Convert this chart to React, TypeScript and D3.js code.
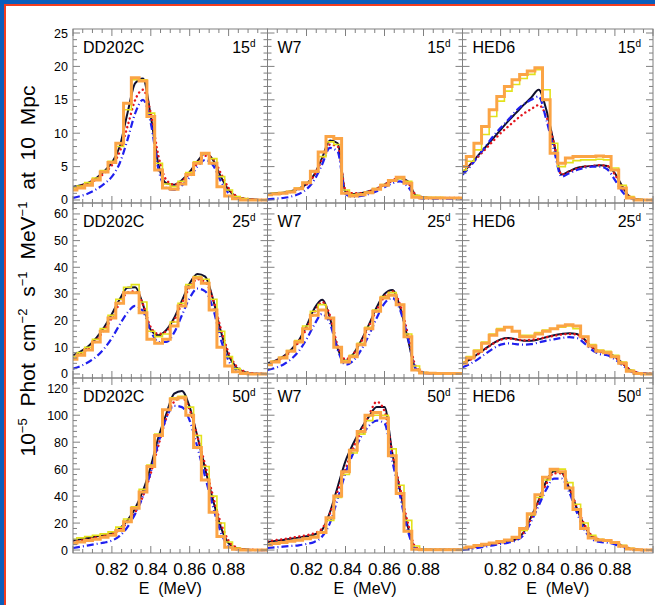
import React, { useRef, useEffect } from 'react';
import * as d3 from 'd3';

// energy grid (MeV)
const energies = [0.800, 0.804, 0.808, 0.812, 0.816, 0.820, 0.824, 0.828, 0.832, 0.836, 0.840, 0.844, 0.848,
  0.852, 0.856, 0.860, 0.864, 0.868, 0.872, 0.876, 0.880, 0.884, 0.888, 0.892, 0.896, 0.900];

const models = ['DD202C', 'W7', 'HED6'];
const epochs = ['15', '25', '50'];
const xTickLabels = [0.82, 0.84, 0.86, 0.88];
const yTicksByRow = [[0, 5, 10, 15, 20, 25], [0, 10, 20, 30, 40, 50, 60], [0, 20, 40, 60, 80, 100, 120]];
const yMinorStep = [1, 2, 4];

// 15 days
const dd15Black = [2.0, 2.2, 2.6, 3.3, 4.3, 5.6, 8.0, 13.0, 17.5, 18.2, 12.5, 5.2, 2.5, 2.3, 3.0, 4.2, 5.8, 7.0, 6.0, 3.5, 1.5, 0.5, 0.2, 0.1, 0, 0];
const dd15Red = [1.8, 2.1, 2.5, 3.1, 4.0, 5.2, 7.2, 11.0, 15.0, 16.5, 13.0, 6.5, 3.0, 2.3, 2.8, 4.0, 5.5, 6.6, 6.2, 4.0, 1.8, 0.6, 0.2, 0.1, 0, 0];
const dd15Blue = [0.3, 0.6, 1.0, 1.6, 2.4, 3.5, 5.5, 9.0, 13.0, 15.0, 11.5, 4.5, 1.8, 1.5, 2.2, 3.4, 5.0, 6.0, 5.2, 2.8, 1.0, 0.3, 0.1, 0, 0, 0];
const dd15Yellow = [1.8, 2.1, 2.6, 3.3, 4.4, 5.8, 8.0, 13.5, 18.0, 18.0, 13.0, 5.5, 2.4, 2.0, 2.8, 4.1, 5.7, 6.9, 6.2, 3.5, 1.5, 0.5, 0.2, 0, 0, 0];
const dd15Orange = [1.5, 1.8, 2.2, 3.0, 4.2, 5.6, 8.5, 14.5, 18.3, 17.8, 12.5, 4.5, 1.8, 1.6, 2.4, 3.8, 5.5, 7.0, 5.5, 2.0, 0.6, 0.2, 0, 0, 0, 0];

const w715Black = [0.9, 1.0, 1.1, 1.3, 1.7, 2.4, 3.8, 6.3, 8.9, 8.5, 1.2, 0.9, 1.0, 1.3, 1.7, 2.3, 2.9, 3.3, 2.8, 0.7, 0.4, 0.3, 0.3, 0.3, 0.3, 0.3];
const w715Red = [0.8, 0.9, 1.0, 1.2, 1.6, 2.3, 3.7, 6.0, 8.3, 8.0, 1.5, 1.0, 1.0, 1.3, 1.7, 2.3, 2.9, 3.4, 2.6, 0.8, 0.4, 0.3, 0.3, 0.3, 0.3, 0.3];
const w715Blue = [0.1, 0.2, 0.3, 0.5, 0.9, 1.6, 3.0, 5.3, 7.8, 7.2, 0.9, 0.5, 0.6, 0.9, 1.3, 1.9, 2.5, 2.8, 2.0, 0.5, 0.2, 0.2, 0.2, 0.2, 0.2, 0.2];
const w715Yellow = [0.9, 1.0, 1.1, 1.3, 1.8, 2.6, 4.2, 6.5, 8.7, 8.3, 1.5, 0.8, 0.9, 1.2, 1.7, 2.3, 2.9, 3.2, 2.8, 0.7, 0.4, 0.4, 0.4, 0.3, 0.3, 0.3];
const w715Orange = [0.8, 0.9, 1.0, 1.2, 1.7, 2.6, 4.3, 7.2, 9.5, 9.2, 1.0, 0.6, 0.8, 1.1, 1.6, 2.2, 2.9, 3.4, 2.5, 0.4, 0.3, 0.3, 0.3, 0.3, 0.3, 0.3];

const hed15Black = [4.0, 5.3, 6.6, 7.9, 9.2, 10.5, 11.8, 13.0, 14.2, 15.3, 16.5, 13.5, 8.5, 3.8, 4.3, 4.8, 5.0, 5.1, 5.2, 5.1, 4.0, 2.0, 0.4, 0.1, 0, 0];
const hed15Red = [4.0, 5.2, 6.4, 7.6, 8.8, 10.0, 11.0, 12.0, 12.9, 13.6, 14.2, 12.5, 8.5, 3.8, 4.2, 4.7, 5.0, 5.1, 5.2, 5.1, 3.8, 1.8, 0.5, 0.1, 0, 0];
const hed15Blue = [3.8, 5.0, 6.5, 8.0, 9.5, 10.8, 12.0, 13.3, 14.3, 15.0, 15.5, 12.0, 7.5, 3.5, 4.0, 4.5, 4.8, 5.0, 5.0, 4.6, 3.0, 1.2, 0.3, 0.1, 0, 0];
const hed15Yellow = [4.5, 5.8, 7.5, 9.8, 12.5, 14.8, 16.3, 17.3, 18.2, 18.8, 19.5, 16.5, 8.5, 5.0, 5.6, 5.9, 6.0, 6.0, 6.1, 6.0, 4.8, 2.2, 0.5, 0.1, 0, 0];
const hed15Orange = [5.0, 6.5, 8.5, 11.0, 13.5, 15.5, 17.0, 18.0, 18.8, 19.3, 19.8, 15.0, 7.0, 5.5, 6.3, 6.5, 6.5, 6.5, 6.6, 6.5, 4.5, 1.8, 0.3, 0, 0, 0];

// 25 days
const dd25Black = [7, 8.5, 10.5, 13.5, 17.5, 22.5, 28, 32.3, 32.5, 26, 16.5, 14.5, 16.5, 21, 27.5, 34, 37.5, 36.5, 28, 16, 7, 2.5, 0.8, 0.2, 0.1, 0];
const dd25Red = [6, 7.5, 9.5, 12.5, 16.5, 21, 26.5, 30.5, 31, 26, 17.5, 15, 16, 20, 26.5, 32.5, 35.5, 34.5, 28, 17, 8, 3, 1, 0.3, 0.1, 0];
const dd25Blue = [2, 3, 4.5, 6.5, 9.5, 13.5, 18.5, 23, 25.5, 23.5, 16, 12, 12, 15.5, 22, 28.5, 32, 31, 24.5, 13, 5, 1.5, 0.4, 0.1, 0, 0];
const dd25Yellow = [6.5, 8, 10, 13, 17, 22, 28, 32.5, 33.5, 27, 16, 14, 15, 19.5, 26.5, 33.5, 36.5, 35.5, 28, 16, 6.5, 2, 0.5, 0.1, 0, 0];
const dd25Orange = [5.5, 7, 9, 12, 16, 21, 26.5, 30.5, 30.5, 23, 13, 11.5, 13, 18, 25.5, 32.5, 36, 34, 24, 10, 3, 0.8, 0.2, 0, 0, 0];

const w725Black = [4, 5, 6.5, 9, 12.5, 18, 24.5, 27.8, 21, 9.5, 5, 7.5, 12.5, 18.5, 25, 30, 31.5, 25, 13, 2, 0.5, 0.3, 0.2, 0.2, 0.2, 0.2];
const w725Red = [3.8, 4.8, 6.2, 8.5, 12, 17, 23, 27, 22, 10.5, 5.5, 7.5, 12, 18, 24, 29, 31, 26, 15, 3, 0.6, 0.3, 0.2, 0.2, 0.2, 0.2];
const w725Blue = [1.5, 2.3, 3.5, 5.5, 8.5, 13, 18.5, 22.5, 19, 9, 3.5, 5, 9, 14.5, 21, 26.5, 28.5, 24, 13.5, 2, 0.3, 0.1, 0.1, 0.1, 0.1, 0.1];
const w725Yellow = [3.8, 4.8, 6.3, 8.8, 12.5, 18, 23.5, 26, 21, 10, 5, 7, 11.5, 17.5, 24, 29, 30.5, 26, 15, 3, 0.5, 0.3, 0.2, 0.2, 0.2, 0.2];
const w725Orange = [3.5, 4.5, 6, 8.5, 12, 17, 22, 24, 21, 10, 4.5, 6.5, 11, 17, 23.5, 28.5, 29.5, 26, 14, 1.5, 0.4, 0.3, 0.2, 0.2, 0.2, 0.2];

const hed25Black = [4, 5.5, 7.5, 9.5, 11.5, 13, 13.5, 13, 12.5, 12.5, 13, 13.8, 14.5, 15, 15.3, 15, 13, 10, 8.5, 8, 6.5, 4, 1.5, 0.5, 0.2, 0.1];
const hed25Red = [4, 5.3, 7.3, 9.3, 11.3, 12.8, 13.3, 13, 12.6, 12.8, 13.2, 13.8, 14.3, 14.8, 15, 14.8, 12.8, 10, 8.5, 7.8, 6.3, 4, 1.6, 0.5, 0.2, 0.1];
const hed25Blue = [2.5, 3.8, 5.5, 7.5, 9.5, 11, 11.5, 11.2, 11, 11.2, 11.8, 12.5, 13, 13.5, 13.8, 13.5, 11.5, 9, 7.5, 7, 5.5, 3.2, 1, 0.3, 0.1, 0];
const hed25Yellow = [4.5, 6.5, 9, 12, 15, 17, 17.5, 16, 14.5, 14.5, 15.5, 16.5, 17, 17.5, 18, 17, 14, 11, 9, 8.5, 7, 4.5, 1.5, 0.4, 0.1, 0];
const hed25Orange = [4, 6, 8.5, 11.5, 14.5, 16.5, 17.5, 16, 14, 14, 15, 16, 17, 18, 18.5, 18, 14, 10.5, 8.5, 8, 6.5, 4, 1, 0.2, 0, 0];

// 50 days
const dd50Black = [7, 8, 9, 10, 11, 12.5, 16, 22, 31, 44, 62, 84, 101, 116, 118, 106, 84, 60, 37, 17, 5, 1.5, 0.5, 0, 0, 0];
const dd50Red = [6, 7, 8, 9.5, 10.5, 12, 15, 20.5, 28, 40, 57, 78, 98, 110, 113, 104, 84, 63, 40, 20, 7, 2, 0.6, 0.2, 0, 0];
const dd50Blue = [1.5, 2.5, 3.5, 4.5, 5.5, 7, 10.5, 17, 27, 40, 58, 80, 98, 107, 106, 96, 76, 54, 32, 13, 3, 0.5, 0.1, 0, 0, 0];
const dd50Yellow = [8, 9, 10, 11, 12, 13.5, 17, 23, 32, 45, 63, 86, 104, 113, 114, 106, 85, 62, 40, 20, 6, 1.5, 0.4, 0, 0, 0];
const dd50Orange = [5, 6, 7, 8, 9.5, 11, 14.5, 21, 31, 43, 62, 85, 104, 112, 113, 100, 76, 52, 28, 10, 2, 0.5, 0, 0, 0, 0];

const w750Black = [6, 6.8, 7.5, 8.3, 9.2, 10.2, 11.5, 15, 28, 47, 66, 79, 90, 99, 106, 106, 72, 44, 17, 1, 0.3, 0.2, 0.2, 0.2, 0.2, 0.2];
const w750Red = [6.5, 7.3, 8, 9, 10, 11, 12.5, 16, 27, 44, 60, 76, 88, 100, 110, 103, 72, 46, 20, 2, 0.4, 0.3, 0.3, 0.3, 0.3, 0.3];
const w750Blue = [1.5, 2, 2.5, 3, 3.5, 4.5, 6, 10, 20, 38, 57, 72, 84, 92, 96, 94, 66, 40, 14, 1, 0.2, 0.1, 0.1, 0.1, 0.1, 0.1];
const w750Yellow = [4.5, 5, 5.8, 6.5, 7.5, 8.5, 10, 13, 22, 39, 56, 72, 86, 96, 100, 100, 75, 48, 22, 3, 0.5, 0.3, 0.3, 0.3, 0.3, 0.3];
const w750Orange = [4, 4.8, 5.5, 6.5, 7.3, 8.3, 9.5, 13, 24, 40, 58, 74, 88, 100, 102, 98, 70, 42, 14, 0.5, 0.3, 0.3, 0.3, 0.3, 0.3, 0.3];

const hed50Black = [1, 1.8, 2.7, 3.7, 4.7, 5.7, 6.6, 8, 13, 24.5, 37, 51, 58.5, 57.5, 46, 31, 18, 10, 7.5, 6.8, 5.5, 3, 1, 0.3, 0, 0];
const hed50Red = [1, 1.7, 2.6, 3.6, 4.6, 5.5, 6.4, 8, 12.5, 23, 36, 49, 57, 57, 47, 32, 19, 10.5, 7.8, 7, 5.7, 3.2, 1.2, 0.3, 0, 0];
const hed50Blue = [0, 0.8, 1.6, 2.5, 3.5, 4.5, 5.5, 7, 11, 21, 33, 45, 53, 53, 43, 28, 15, 8, 6, 5.5, 4.2, 2, 0.6, 0.1, 0, 0];
const hed50Yellow = [1.5, 2.3, 3.2, 4.2, 5.2, 6.2, 7.2, 9, 14.5, 26, 39, 52, 59, 60, 50, 34, 20, 11, 8, 7.2, 6, 3.5, 1.2, 0.3, 0, 0];
const hed50Orange = [1.5, 2.3, 3.3, 4.3, 5.3, 6.3, 7.5, 9.5, 16, 27, 41, 54, 60, 58, 46, 30, 16, 9, 7.5, 7, 5.5, 2.8, 0.8, 0.2, 0, 0];

// row-major: rows are epochs, columns are models
const panelSeries = [
  [dd15Black, dd15Red, dd15Blue, dd15Yellow, dd15Orange],
  [w715Black, w715Red, w715Blue, w715Yellow, w715Orange],
  [hed15Black, hed15Red, hed15Blue, hed15Yellow, hed15Orange],
  [dd25Black, dd25Red, dd25Blue, dd25Yellow, dd25Orange],
  [w725Black, w725Red, w725Blue, w725Yellow, w725Orange],
  [hed25Black, hed25Red, hed25Blue, hed25Yellow, hed25Orange],
  [dd50Black, dd50Red, dd50Blue, dd50Yellow, dd50Orange],
  [w750Black, w750Red, w750Blue, w750Yellow, w750Orange],
  [hed50Black, hed50Red, hed50Blue, hed50Yellow, hed50Orange],
];

const seriesStyle = [
  { color: '#10102e', width: 2, dash: null, cap: 'butt', step: false },
  { color: '#e3141c', width: 2.4, dash: '0.1,4.5', cap: 'round', step: false },
  { color: '#2020ee', width: 2.2, dash: '7,3,1,3', cap: 'butt', step: false },
  { color: '#e2e21c', width: 1.6, dash: null, cap: 'butt', step: true },
  { color: '#fba445', width: 3, dash: null, cap: 'butt', step: true },
];

const colEdges = [73, 267.5, 462.5, 653];
const rowEdges = [29, 203, 378, 553];
const yDomains = [[-0.45, 25.6], [-1.5, 64.1], [-2.2, 127.6]];
const font = '"Liberation Sans", Arial, Helvetica, sans-serif';

const App = () => {
  const svgRef = useRef<SVGSVGElement>(null);

  useEffect(() => {
    const svg = d3.select(svgRef.current);
    svg.selectAll('*').remove();

    // frame
    svg.append('rect').attr('width', 655).attr('height', 605).attr('fill', '#0b5ebb');
    svg.append('rect').attr('x', 4).attr('y', 4).attr('width', 651).attr('height', 601).attr('fill', '#f23d1f');
    svg.append('rect').attr('x', 6).attr('y', 6).attr('width', 649).attr('height', 599).attr('fill', '#fff');

    const defs = svg.append('defs');

    panelSeries.forEach((series, i) => {
      const col = i % 3;
      const row = Math.floor(i / 3);
      const x0 = colEdges[col], x1 = colEdges[col + 1];
      const y0 = rowEdges[row], y1 = rowEdges[row + 1];

      const x = d3.scaleLinear().domain([0.8, 0.9]).range([x0, x1]);
      const y = d3.scaleLinear().domain(yDomains[row]).range([y1, y0]);

      defs.append('clipPath').attr('id', `clip-${i}`)
        .append('rect').attr('x', x0).attr('y', y0).attr('width', x1 - x0).attr('height', y1 - y0);

      const g = svg.append('g').attr('clip-path', `url(#clip-${i})`);

      series.forEach((values, k) => {
        const s = seriesStyle[k];
        const line = d3.line<number>()
          .x((d, j) => x(energies[j]))
          .y(d => y(d))
          .curve(s.step ? d3.curveStep : d3.curveMonotoneX);
        const path = g.append('path')
          .attr('d', line(values))
          .attr('fill', 'none')
          .attr('stroke', s.color)
          .attr('stroke-width', s.width)
          .attr('stroke-linecap', s.cap);
        if (s.dash) path.attr('stroke-dasharray', s.dash);
      });

      // box + ticks on all sides, pointing inward
      const ax = svg.append('g').attr('stroke', '#808080').attr('stroke-width', 1).attr('fill', 'none');
      ax.append('rect').attr('x', x0).attr('y', y0).attr('width', x1 - x0).attr('height', y1 - y0);

      const xMinor = x.ticks(20);
      const xMajor = x.ticks(5);
      xMinor.forEach(v => {
        const len = xMajor.some(m => Math.abs(m - v) < 1e-6) ? 7 : 4;
        ax.append('line').attr('x1', x(v)).attr('x2', x(v)).attr('y1', y1).attr('y2', y1 - len);
        ax.append('line').attr('x1', x(v)).attr('x2', x(v)).attr('y1', y0).attr('y2', y0 + len);
      });

      const yMajor = yTicksByRow[row];
      const yMinor = d3.range(0, yDomains[row][1], yMinorStep[row]);
      yMinor.forEach(v => {
        const len = yMajor.includes(v) ? 7 : 4;
        ax.append('line').attr('x1', x0).attr('x2', x0 + len).attr('y1', y(v)).attr('y2', y(v));
        ax.append('line').attr('x1', x1).attr('x2', x1 - len).attr('y1', y(v)).attr('y2', y(v));
      });

      if (col === 0) {
        yMajor.forEach(v => {
          svg.append('text')
            .attr('x', 68).attr('y', y(v)).attr('dy', '0.36em')
            .attr('text-anchor', 'end')
            .attr('font-family', font).attr('font-size', 12.5)
            .text(v);
        });
      }

      if (row === 2) {
        xTickLabels.forEach(v => {
          svg.append('text')
            .attr('x', x(v)).attr('y', 575)
            .attr('text-anchor', 'middle')
            .attr('font-family', font).attr('font-size', 17)
            .text(v.toFixed(2));
        });
        svg.append('text')
          .attr('x', (x0 + x1) / 2).attr('y', 594)
          .attr('text-anchor', 'middle')
          .attr('font-family', font).attr('font-size', 16)
          .style('white-space', 'pre')
          .text('E  (MeV)');
      }

      // panel labels
      svg.append('text')
        .attr('x', x0 + 10).attr('y', y0 + 23.5)
        .attr('font-family', font).attr('font-size', 16)
        .text(models[col]);
      const ep = svg.append('text')
        .attr('x', x1 - 12).attr('y', y0 + 23.5)
        .attr('text-anchor', 'end')
        .attr('font-family', font).attr('font-size', 16);
      ep.append('tspan').text(epochs[row]);
      ep.append('tspan').attr('dy', -6).attr('font-size', 10).text('d');
    });

    // y-axis title
    const t = svg.append('text')
      .attr('transform', 'translate(35,271) rotate(-90)')
      .attr('text-anchor', 'middle')
      .attr('font-family', font).attr('font-size', 21)
      .attr('word-spacing', 6);
    const parts: [string, boolean][] = [
      ['10', false], ['\u22125', true], [' Phot cm', false], ['\u22122', true], [' s', false], ['\u22121', true],
      [' MeV', false], ['\u22121', true], [' at 10 Mpc', false],
    ];
    let raised = false;
    parts.forEach(([txt, sup]) => {
      const span = t.append('tspan').text(txt);
      if (sup && !raised) { span.attr('dy', -8).attr('font-size', 13); raised = true; }
      else if (sup) span.attr('font-size', 13);
      else if (raised) { span.attr('dy', 8); raised = false; }
    });
  }, []);

  return <svg ref={svgRef} width={655} height={605} style={{ position: 'absolute', left: 0, top: 0 }} />;
};

export default App;
